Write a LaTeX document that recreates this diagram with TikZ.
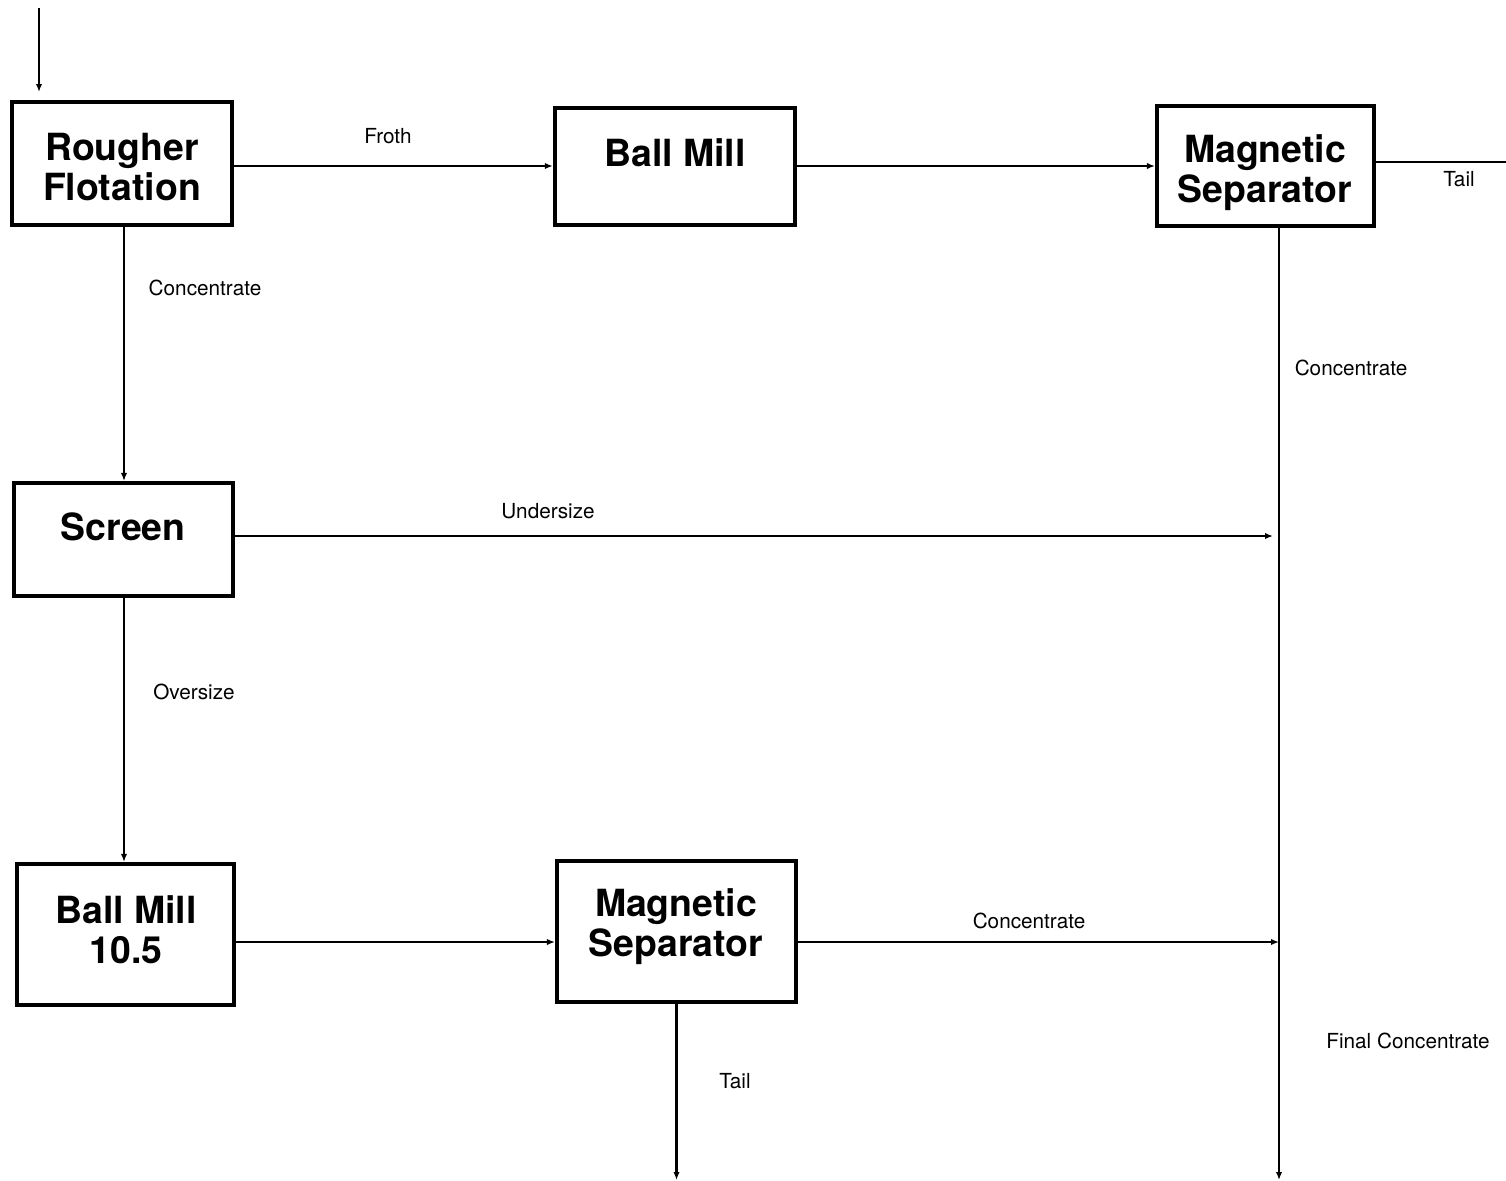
\documentclass[tikz,border=0pt]{standalone}
\usepackage{fontspec}
\setmainfont{TeX Gyre Heros}
\usetikzlibrary{arrows.meta}
\begin{document}
\begin{tikzpicture}[x=0.02cm,y=-0.02cm,
  box/.style={draw, line width=2.5pt, rectangle, inner sep=0pt},
  boxtext/.style={font=\fontsize{21.3}{22.7}\selectfont\bfseries, align=center, inner sep=0pt},
  lbl/.style={font=\fontsize{11.8}{13}\selectfont, inner sep=0pt},
  thick line/.style={line width=1.35pt},
  thin line/.style={line width=0.75pt},
  tip/.style={-{Latex[length=4.5pt,width=3.6pt]}}]
\useasboundingbox (0,0) rectangle (1506,1180);
% boxes
\node[box, minimum width=4.4cm, minimum height=2.46cm] (rf) at (122,163.5) {};
\node[box, minimum width=4.8cm, minimum height=2.34cm] (bm1) at (675,166.5) {};
\node[box, minimum width=4.34cm, minimum height=2.4cm] (ms1) at (1265.5,166) {};
\node[box, minimum width=4.38cm, minimum height=2.26cm] (sc) at (123.5,539.5) {};
\node[box, minimum width=4.34cm, minimum height=2.82cm] (bm2) at (125.5,934.5) {};
\node[box, minimum width=4.78cm, minimum height=2.82cm] (ms2) at (676.5,931.5) {};
% box texts
\node[boxtext] (trf) at (122,167) {Rougher\\Flotation};
\node[boxtext] (tbm1) at (675,153) {Ball Mill};
\node[boxtext] (tms1) at (1265,173) {Magnetic\\Separator};
\node[boxtext] (tsc) at (123,527) {Screen};
\node[boxtext] (tbm2) at (126,930) {Ball Mill\\10.5};
\node[boxtext] (tms2) at (676,927) {Magnetic\\Separator};
% helper coordinates
\coordinate (in0) at (39,8);
\coordinate (r1) at (0,166);
\coordinate (r2) at (0,536);
\coordinate (r3) at (0,942);
\coordinate (fc) at (1279,1180);
\coordinate (tailend) at (1506,162);
% connectors
\draw[thin line, tip, shorten >=4.5pt] (in0) -- (in0 |- rf.north);
\draw[thick line, tip] (rf.east |- r1) -- (bm1.west |- r1);
\draw[thin line, tip] (bm1.east |- r1) -- (ms1.west |- r1);
\draw[thick line] (ms1.east |- tailend) -- (tailend);
\draw[thin line, tip] (rf.south -| 124,0) -- (sc.north -| 124,0);
\draw[thin line, tip] (sc.south -| 124,0) -- (bm2.north -| 124,0);
\draw[thick line, tip, shorten >=3.4pt] (sc.east |- r2) -- (fc |- r2);
\draw[thin line, tip] (bm2.east |- r3) -- (ms2.west |- r3);
\draw[thick line, tip] (ms2.east |- r3) -- (fc |- r3);
\draw[thick line, tip] (ms1.south -| fc) -- (fc);
\draw[thick line, tip] (ms2.south) -- (ms2.south |- fc);
% labels
\node[lbl] (lfroth) at (388,136) {Froth};
\node[lbl] (lconc1) at (205,288) {Concentrate};
\node[lbl] (ltail1) at (1459,179) {Tail};
\node[lbl] (lconc2) at (1351,368) {Concentrate};
\node[lbl] (lunder) at (548,511) {Undersize};
\node[lbl] (lover) at (194,692) {Oversize};
\node[lbl] (lconc3) at (1029,921) {Concentrate};
\node[lbl] (lfinal) at (1408,1041) {Final Concentrate};
\node[lbl] (ltail2) at (735,1081) {Tail};
\end{tikzpicture}
\end{document}
